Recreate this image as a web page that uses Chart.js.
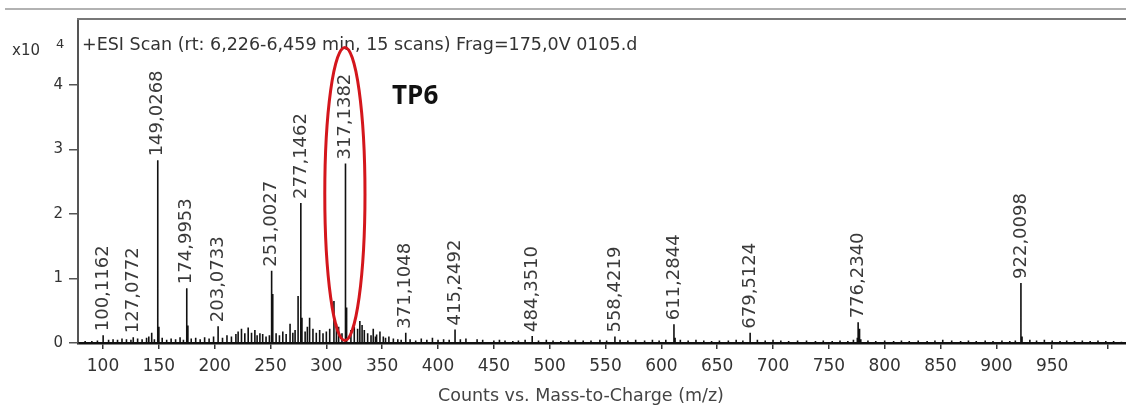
<!DOCTYPE html>
<html lang="en">
<head>
<meta charset="UTF-8">
<title>+ESI Scan TP6</title>
<script src="https://cdn.jsdelivr.net/npm/chart.js"></script>
<style>
  html, body { margin: 0; padding: 0; background: #fff; }
  #wrap { width: 1126px; height: 408px; position: relative; }
</style>
</head>
<body>
<div id="wrap"><canvas id="spectrum"></canvas></div>
<script>
// axis range (m/z) and counts range (x10^4)
const xMin = 77.6, xMax = 1016.1;
const yMin = 0, yMax = 5.02;

const xTickValues = [100, 150, 200, 250, 300, 350, 400, 450, 500, 550, 600, 650, 700, 750, 800, 850, 900, 950, 1000];
const xTickLabels = ['100', '150', '200', '250', '300', '350', '400', '450', '500', '550', '600', '650', '700', '750', '800', '850', '900', '950', ''];
const yTickValues = [0, 1, 2, 3, 4];
const yTickLabels = ['0', '1', '2', '3', '4'];

// labelled peaks
const peakMz  = [100.1162, 127.0772, 149.0268, 174.9953, 203.0733, 251.0027, 277.1462, 317.1382, 371.1048, 415.2492, 484.3510, 558.4219, 611.2844, 679.5124, 776.2340, 922.0098];
const peakInt = [0.12, 0.09, 2.83, 0.85, 0.26, 1.12, 2.17, 2.78, 0.16, 0.21, 0.11, 0.10, 0.29, 0.16, 0.32, 0.93];

// unlabelled peaks
const minorMz  = [143.6, 150.03, 176.0, 224.0, 230.0, 236.0, 240.5, 252.0, 267.5, 274.7, 278.15, 285.0, 306.8, 318.14, 330.0, 332.0, 342.0, 345.0, 348.0, 351.0, 612.3, 775.5, 777.0, 777.8, 778.6, 923.0];
const minorInt = [0.16, 0.25, 0.27, 0.22, 0.24, 0.20, 0.15, 0.76, 0.30, 0.73, 0.39, 0.39, 0.65, 0.55, 0.34, 0.28, 0.22, 0.13, 0.18, 0.10, 0.08, 0.08, 0.22, 0.12, 0.06, 0.10];

// baseline noise
const noiseMz = [84, 90, 95, 105, 109, 113, 117, 121, 125, 131, 135, 139, 141, 146,
  153, 157, 161, 165, 169, 172, 179, 183, 187, 191, 195, 199, 207, 211, 215, 219, 221, 227, 233, 238, 243, 246, 249,
  255, 258, 261, 264, 270, 272, 281, 283, 288, 291, 294, 297, 300, 303, 309, 311, 314, 322, 325, 328, 334, 337, 340, 344, 353, 356, 360, 364, 367,
  375, 380, 385, 390, 395, 400, 405, 410, 420, 425, 435, 440, 450, 455, 460, 467, 472, 478, 490, 497, 503, 510, 517, 523, 530, 537, 545, 551, 563, 570, 577, 585, 592, 598, 604,
  617, 624, 631, 638, 645, 652, 660, 667, 673, 686, 693, 700, 707, 714, 722, 730, 738, 745, 753, 760, 767, 772, 785, 792, 800, 808, 815, 822, 830, 838, 845, 852, 860, 868, 875, 882, 890, 897, 905, 912, 917, 930, 936, 943, 950, 957, 963, 970, 977, 984, 991, 998, 1005, 1012];
const noiseInt = [0.03, 0.03, 0.04, 0.05, 0.06, 0.05, 0.07, 0.06, 0.05, 0.07, 0.06, 0.08, 0.10, 0.06,
  0.08, 0.05, 0.07, 0.06, 0.09, 0.05, 0.07, 0.08, 0.06, 0.09, 0.07, 0.10, 0.08, 0.12, 0.10, 0.14, 0.18, 0.15, 0.16, 0.12, 0.14, 0.10, 0.12,
  0.15, 0.12, 0.18, 0.14, 0.16, 0.20, 0.18, 0.25, 0.22, 0.16, 0.20, 0.15, 0.18, 0.22, 0.30, 0.25, 0.15, 0.20, 0.25, 0.22, 0.20, 0.15, 0.12, 0.10, 0.08, 0.10, 0.07, 0.06, 0.05,
  0.06, 0.04, 0.07, 0.05, 0.08, 0.05, 0.06, 0.05, 0.06, 0.07, 0.06, 0.05, 0.04, 0.05, 0.04, 0.03, 0.04, 0.05, 0.04, 0.05, 0.04, 0.03, 0.04, 0.05, 0.04, 0.04, 0.05, 0.04, 0.05, 0.04, 0.05, 0.04, 0.05, 0.04, 0.05,
  0.05, 0.04, 0.05, 0.04, 0.03, 0.04, 0.04, 0.05, 0.04, 0.05, 0.04, 0.05, 0.04, 0.03, 0.04, 0.04, 0.03, 0.04, 0.03, 0.04, 0.03, 0.05, 0.04, 0.03, 0.04, 0.03, 0.04, 0.03, 0.04, 0.03, 0.04, 0.05, 0.04, 0.03, 0.04, 0.03, 0.04, 0.03, 0.04, 0.03, 0.04, 0.05, 0.04, 0.05, 0.04, 0.03, 0.04, 0.03, 0.04, 0.03, 0.04, 0.03, 0.03, 0.02];

const scanTitle = '+ESI Scan (rt: 6,226-6,459 min, 15 scans) Frag=175,0V 0105.d';
const xTitle = 'Counts vs. Mass-to-Charge (m/z)';
const highlightLabel = 'TP6';

// build stick spectrum: each peak goes 0 -> height -> 0
function buildSticks() {
  const all = [];
  peakMz.forEach((m, i) => all.push([m, peakInt[i]]));
  minorMz.forEach((m, i) => all.push([m, minorInt[i]]));
  noiseMz.forEach((m, i) => all.push([m, noiseInt[i]]));
  all.sort((a, b) => a[0] - b[0]);
  const pts = [{ x: xMin, y: 0 }];
  all.forEach(([m, h]) => {
    pts.push({ x: m, y: 0 }, { x: m, y: h }, { x: m, y: 0 });
  });
  pts.push({ x: xMax, y: 0 });
  return pts;
}

const FONT = 'DejaVu Sans';

const decor = {
  id: 'decor',
  beforeDraw(chart) {
    const ctx = chart.ctx;
    ctx.save();
    ctx.fillStyle = '#fff';
    ctx.fillRect(0, 0, chart.width, chart.height);
    // rule above the panel
    ctx.strokeStyle = '#999';
    ctx.lineWidth = 1.5;
    ctx.beginPath();
    ctx.moveTo(5, 9);
    ctx.lineTo(chart.width, 9);
    ctx.stroke();
    ctx.restore();
  },
  afterDraw(chart) {
    const ctx = chart.ctx;
    const xs = chart.scales.x, ys = chart.scales.y;
    const area = chart.chartArea;
    ctx.save();

    // panel top edge
    ctx.strokeStyle = '#777';
    ctx.lineWidth = 2;
    ctx.beginPath();
    ctx.moveTo(area.left - 1, area.top);
    ctx.lineTo(area.right, area.top);
    ctx.stroke();

    // scan header
    ctx.fillStyle = '#333';
    ctx.font = '17.5px ' + FONT;
    ctx.textAlign = 'left';
    ctx.textBaseline = 'alphabetic';
    ctx.fillText(scanTitle, area.left + 4, area.top + 31);

    // exponent
    ctx.font = '15px ' + FONT;
    ctx.fillText('x10', 12, 55);
    ctx.font = '13px ' + FONT;
    ctx.fillText('4', 56, 48);

    // peak labels, rotated
    ctx.font = '18px ' + FONT;
    ctx.fillStyle = '#3a3a3a';
    ctx.textBaseline = 'middle';
    peakMz.forEach((m, i) => {
      const px = xs.getPixelForValue(m);
      const py = ys.getPixelForValue(peakInt[i]) - 4;
      ctx.save();
      ctx.translate(px, py);
      ctx.rotate(-Math.PI / 2);
      ctx.fillText(m.toFixed(4).replace('.', ','), 0, 0);
      ctx.restore();
    });

    // red ellipse around 317
    const cx = xs.getPixelForValue(316.6);
    const cy = ys.getPixelForValue(2.31);
    const rx = xs.getPixelForValue(316.6 + 18) - cx;
    const ry = cy - ys.getPixelForValue(2.31 + 2.27);
    ctx.strokeStyle = '#d4161c';
    ctx.lineWidth = 3;
    ctx.beginPath();
    ctx.ellipse(cx, cy, rx, ry, 0, 0, Math.PI * 2);
    ctx.stroke();

    // TP6
    ctx.fillStyle = '#111';
    ctx.font = 'bold 26px "Open Sans"';
    ctx.textAlign = 'left';
    ctx.textBaseline = 'alphabetic';
    ctx.fillText(highlightLabel, xs.getPixelForValue(358.8), ys.getPixelForValue(3.71));

    // x axis title
    ctx.fillStyle = '#444';
    ctx.font = '17.5px ' + FONT;
    ctx.textAlign = 'center';
    ctx.textBaseline = 'middle';
    ctx.fillText(xTitle, xs.getPixelForValue(528), 396);

    ctx.restore();
  }
};

new Chart(document.getElementById('spectrum'), {
  type: 'line',
  data: {
    datasets: [{
      data: buildSticks(),
      borderColor: '#111',
      borderWidth: 1.6,
      pointRadius: 0,
      tension: 0,
      fill: false
    }]
  },
  options: {
    responsive: true,
    maintainAspectRatio: false,
    animation: false,
    events: [],
    layout: { padding: { top: 19, left: 0, right: 0, bottom: 0 } },
    plugins: { legend: { display: false }, tooltip: { enabled: false } },
    scales: {
      x: {
        type: 'linear',
        min: xMin,
        max: xMax,
        afterFit: s => { s.height = 65; },
        afterBuildTicks: s => { s.ticks = xTickValues.map(v => ({ value: v })); },
        ticks: {
          includeBounds: false,
          autoSkip: false,
          maxRotation: 0,
          padding: 7,
          color: '#333',
          font: { family: FONT, size: 17 },
          callback: (v, i) => xTickLabels[i]
        },
        grid: { drawOnChartArea: false, tickLength: 6, color: '#333', lineWidth: 1.5 },
        border: { color: '#111', width: 2.5 }
      },
      y: {
        min: yMin,
        max: yMax,
        afterFit: s => { s.width = 78; },
        afterBuildTicks: s => { s.ticks = yTickValues.map(v => ({ value: v })); },
        ticks: {
          includeBounds: false,
          padding: 6,
          color: '#333',
          font: { family: FONT, size: 15 },
          callback: (v, i) => yTickLabels[i]
        },
        grid: { drawOnChartArea: false, tickLength: 9, color: '#555', lineWidth: 1.5 },
        border: { color: '#555', width: 2 }
      }
    }
  },
  plugins: [decor]
});
</script>
</body>
</html>
